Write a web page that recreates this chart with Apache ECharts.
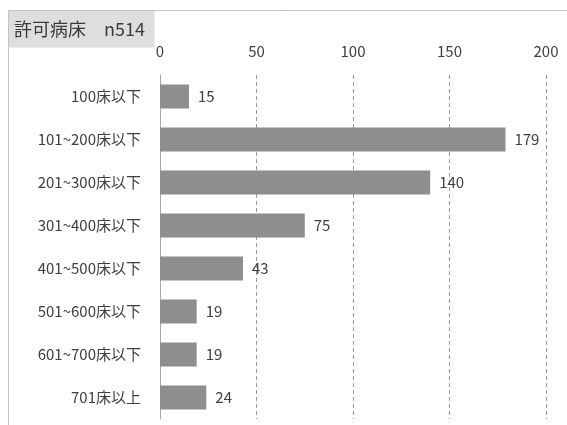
<!DOCTYPE html>
<html><head><meta charset="utf-8">
<script src="https://cdn.jsdelivr.net/npm/echarts@6/dist/echarts.min.js"></script>
<style>html,body{margin:0;padding:0;background:#fff}#c{width:567px;height:425px}</style>
</head><body><div id="c"></div>
<script>
const categories = ['100床以下','101~200床以下','201~300床以下','301~400床以下','401~500床以下','501~600床以下','601~700床以下','701床以上'];
const values = [15,179,140,75,43,19,19,24];
const titleText = '許可病床　n514';
const FONT = '"Noto Sans CJK JP", "Noto Sans", sans-serif';
const chart = echarts.init(document.getElementById('c'));
chart.setOption({
  animation:false,
  graphic:[
    {type:'rect',shape:{x:8.5,y:10.5,width:146,height:37},style:{fill:'#dedede'},z:-1},
    {type:'line',shape:{x1:8.5,y1:10.5,x2:567,y2:10.5},style:{stroke:'#c4c4c4',lineWidth:1}},
    {type:'line',shape:{x1:8.5,y1:10.5,x2:8.5,y2:425},style:{stroke:'#c4c4c4',lineWidth:1}},
    {type:'text',left:14,top:20,style:{text:titleText,font:'18px '+FONT,fill:'#3a3a3a'}}
  ],
  grid:{left:160,right:21,top:75,height:344,containLabel:false},
  xAxis:{type:'value',position:'top',min:0,max:200,interval:50,
    axisLine:{show:false},axisTick:{show:false},
    axisLabel:{color:'#404040',fontSize:15,fontFamily:FONT,margin:16},
    splitLine:{show:true,lineStyle:{type:[4,3],color:'#9a9a9a',width:1}}},
  yAxis:{type:'category',data:categories,inverse:true,
    axisLine:{show:true,lineStyle:{color:'#a8a8a8'}},axisTick:{show:false},
    axisLabel:{color:'#404040',fontSize:15,fontFamily:FONT,margin:19}},
  series:[{type:'bar',data:values,barWidth:24,
    itemStyle:{color:'#8e8e8e'},
    label:{show:true,position:'right',distance:9,color:'#404040',fontSize:15,fontFamily:FONT}}]
});
</script></body></html>
